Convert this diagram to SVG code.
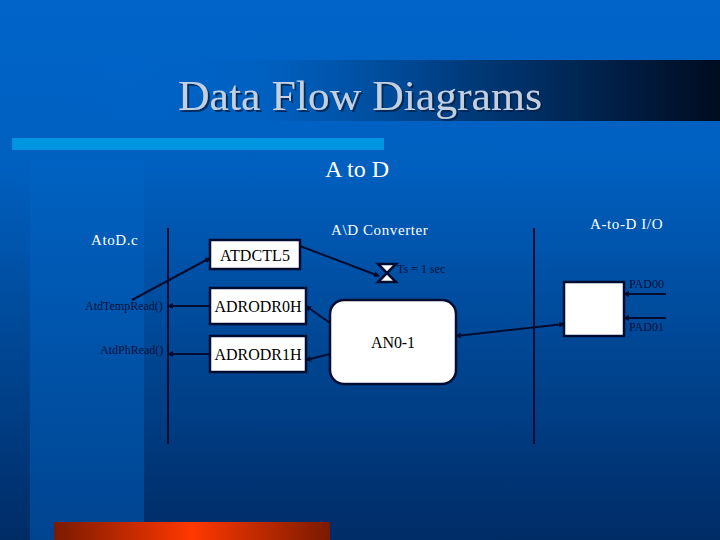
<svg xmlns="http://www.w3.org/2000/svg" width="720" height="540" viewBox="0 0 720 540">
<style>
text{font-family:"Liberation Serif","Times New Roman",serif}
.w{fill:#fff;font-size:15px;letter-spacing:.6px}
.n{fill:#000;font-size:16px;text-anchor:middle}
.d{fill:#00103a;font-size:12px}
.box{fill:#fff;stroke:#000c30;stroke-width:2.5}
.l{stroke:#000c30;stroke-width:2;fill:none}
.a{marker-end:url(#h)}
</style>
<defs>
<linearGradient id="bg" x1="0" y1="0" x2="0" y2="1"><stop offset="0" stop-color="#0064c8"/><stop offset=".3" stop-color="#0060c0"/><stop offset="1" stop-color="#002c66"/></linearGradient>
<linearGradient id="panel" x1="0" y1="0" x2="0" y2="1"><stop offset="0" stop-color="#0062c2"/><stop offset="1" stop-color="#004490"/></linearGradient>
<linearGradient id="band" x1="0" y1="0" x2="1" y2="0"><stop offset="0" stop-color="#0066cc" stop-opacity="0"/><stop offset=".3" stop-color="#0060c0" stop-opacity=".7"/><stop offset=".62" stop-color="#003a7a"/><stop offset="1" stop-color="#000c20"/></linearGradient>
<linearGradient id="red" x1="0" y1="0" x2="1" y2="0"><stop offset="0" stop-color="#7a1a00"/><stop offset=".5" stop-color="#ff3800"/><stop offset="1" stop-color="#7a1a00"/></linearGradient>
<filter id="sh" x="-5%" y="-20%" width="110%" height="140%"><feDropShadow dx="2" dy="2" stdDeviation="0.6" flood-color="#00204a" flood-opacity=".8"/></filter>
<marker id="h" markerWidth="6" markerHeight="6" refX="5" refY="3" orient="auto-start-reverse" markerUnits="userSpaceOnUse"><path d="M0 0L6 3L0 6z" fill="#000c30"/></marker>
</defs>
<rect width="720" height="540" fill="url(#bg)"/>
<rect x="30" y="160" width="114" height="380" fill="url(#panel)"/>
<rect x="60" y="60" width="660" height="61" fill="url(#band)"/>
<rect x="12" y="138" width="372" height="12" fill="#0095e0"/>
<rect x="54" y="522" width="276" height="18" fill="url(#red)"/>
<text x="178" y="110" font-size="42" textLength="364" lengthAdjust="spacingAndGlyphs" fill="#c4d0e0" filter="url(#sh)">Data Flow Diagrams</text>
<text x="357" y="177" font-size="24" text-anchor="middle" fill="#fff">A to D</text>
<g id="connectors">
<line class="l" x1="168" y1="228" x2="168" y2="444"/>
<line class="l" x1="534" y1="228" x2="534" y2="444"/>
<line class="l a" x1="132" y1="300" x2="210" y2="258"/>
<line class="l a" x1="300" y1="246" x2="379" y2="276"/>
<line class="l a" x1="210" y1="306" x2="168" y2="306"/>
<line class="l a" x1="210" y1="354" x2="168" y2="354"/>
<line class="l a" x1="330" y1="323" x2="306" y2="306"/>
<line class="l a" x1="330" y1="354" x2="306" y2="360"/>
<line class="l a" marker-start="url(#h)" x1="564" y1="324" x2="456" y2="336"/>
<line class="l a" x1="666" y1="294" x2="624" y2="294"/>
<line class="l a" x1="666" y1="318" x2="624" y2="318"/>
</g>
<text class="w" x="91" y="245">AtoD.c</text>
<text class="w" x="331" y="235">A\D Converter</text>
<text class="w" x="590" y="229">A-to-D I/O</text>
<text class="d" x="85" y="310">AtdTempRead()</text>
<text class="d" x="100" y="354">AtdPhRead()</text>
<text class="d" x="397" y="273">Ts = 1 sec</text>
<text class="d" x="629" y="288">PAD00</text>
<text class="d" x="629" y="331">PAD01</text>
<g id="atdctl5"><rect class="box" x="210" y="240" width="90" height="29"/><text class="n" x="255" y="261" textLength="70">ATDCTL5</text></g>
<g id="adrodr0h"><rect class="box" x="210" y="288" width="96" height="36"/><text class="n" x="258" y="312" textLength="87">ADRODR0H</text></g>
<g id="adrodr1h"><rect class="box" x="210" y="336" width="96" height="36"/><text class="n" x="258" y="360" textLength="87">ADRODR1H</text></g>
<g id="an01"><rect class="box" x="330" y="300" width="126" height="84" rx="14"/><text class="n" x="393" y="348" textLength="44">AN0-1</text></g>
<g id="timer"><path d="M378 264H396L378 282H396Z" fill="#fff" stroke="#000c30" stroke-width="2.5"/></g>
<g id="io"><rect class="box" x="564" y="282" width="60" height="54"/></g>
</svg>
